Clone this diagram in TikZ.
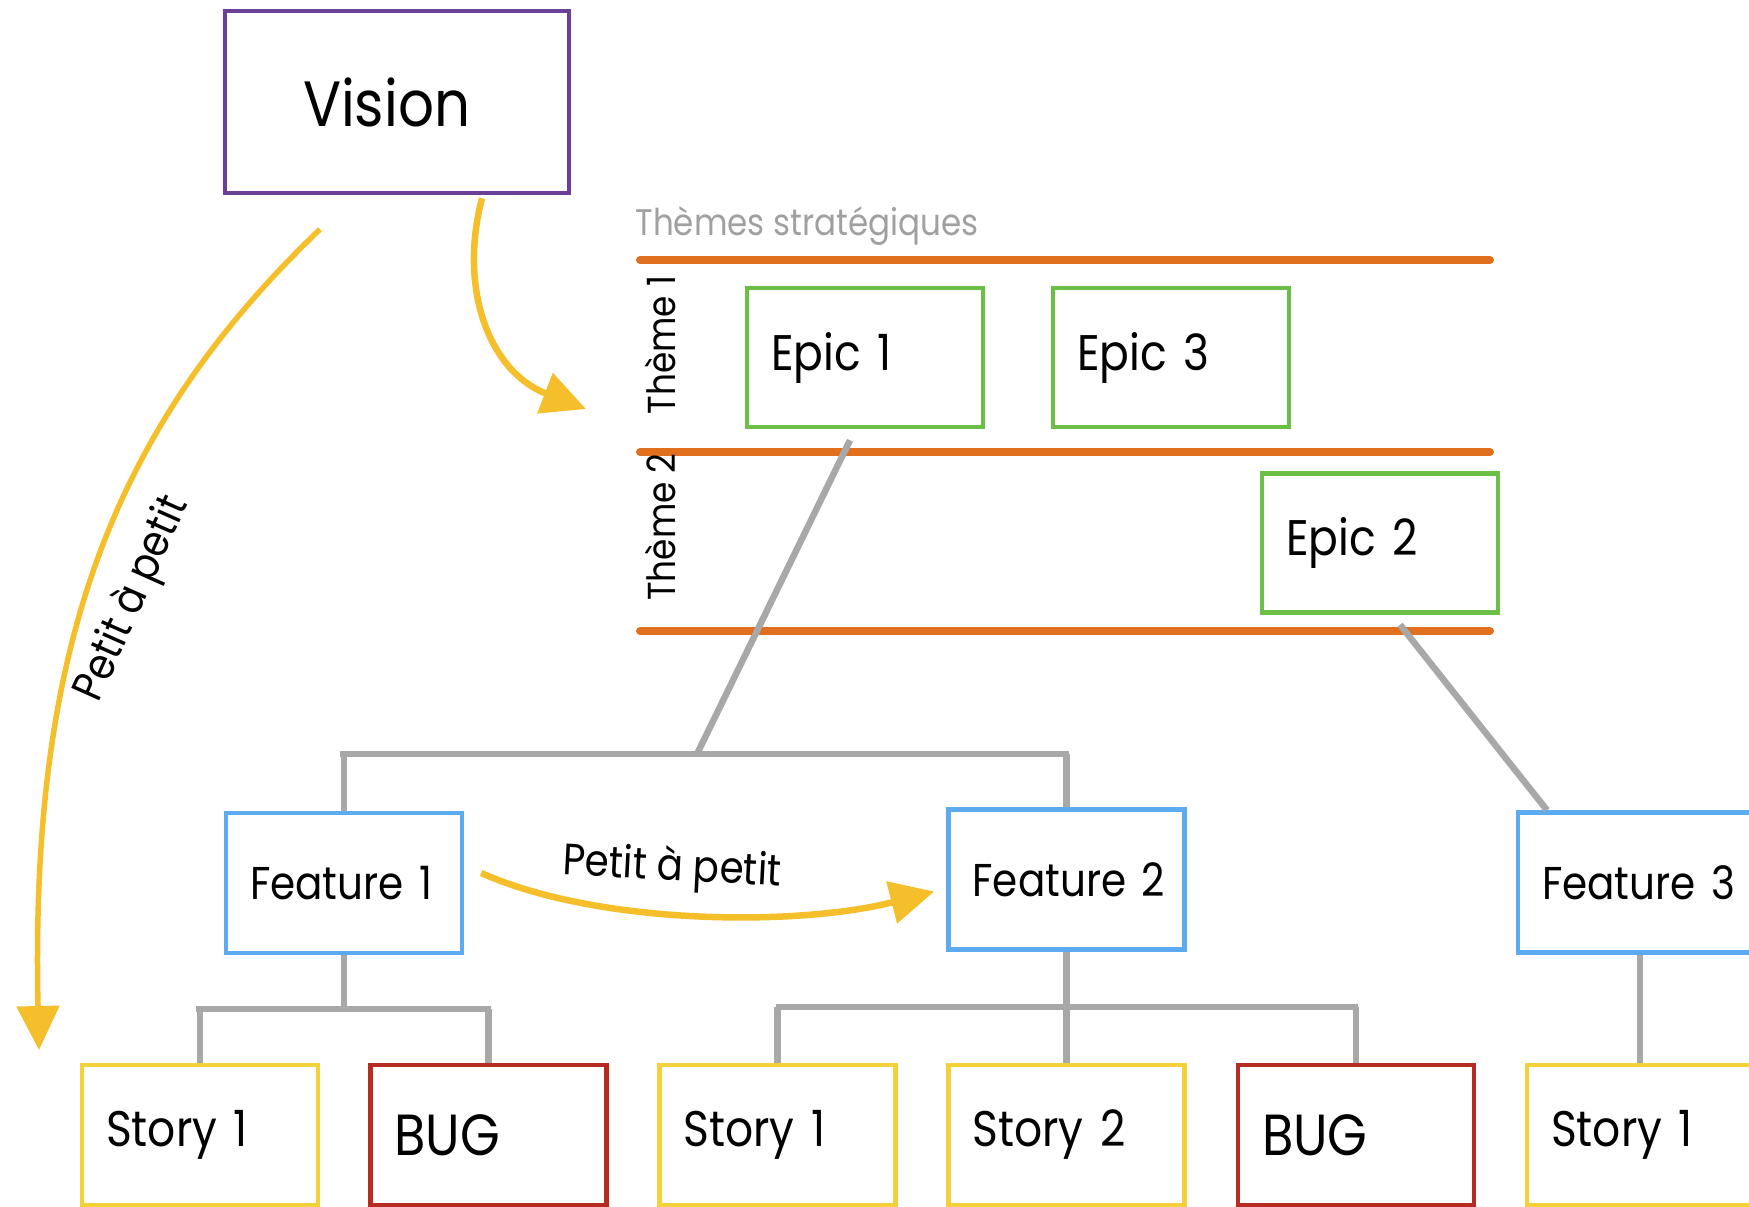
\documentclass[tikz,border=0pt]{standalone}
\usepackage{fontspec}
\setmainfont{Poppins}[FakeStretch=0.88]
\usetikzlibrary{arrows.meta,calc}

\definecolor{visionpurple}{HTML}{6A3F98}
\definecolor{themeorange}{HTML}{E0701E}
\definecolor{epicgreen}{HTML}{6CBF45}
\definecolor{featureblue}{HTML}{5CAAF0}
\definecolor{storyyellow}{HTML}{F4D13A}
\definecolor{bugred}{HTML}{B82B20}
\definecolor{linkgray}{HTML}{A8A8A8}
\definecolor{flowyellow}{HTML}{F5BF2C}
\definecolor{labelgray}{HTML}{A0A0A0}

\tikzset{
  card/.style={rectangle, draw, fill=white, line width=4.5pt,
    inner xsep=24pt, inner ysep=0pt, text width=188pt, align=left,
    minimum height=140pt},
  visionbox/.style={card, draw=visionpurple, inner xsep=78pt,
    minimum height=182pt, font=\fontsize{64}{70}\selectfont},
  epicbox/.style={card, draw=epicgreen, minimum height=139pt,
    font=\fontsize{50}{60}\selectfont},
  featurebox/.style={card, draw=featureblue, font=\fontsize{46}{55}\selectfont},
  storybox/.style={card, draw=storyyellow, font=\fontsize{50}{60}\selectfont},
  bugbox/.style={card, draw=bugred, font=\fontsize{58}{64}\selectfont},
  themeline/.style={draw=themeorange, line width=8pt, line cap=round},
  themelabel/.style={rotate=90, font=\fontsize{39}{44}\selectfont},
  link/.style={draw=linkgray, line width=6.5pt},
  flow/.style={draw=flowyellow, line width=6.5pt,
    -{Triangle[length=44pt,width=42pt]}},
  flowlabel/.style={font=\fontsize{44}{50}\selectfont}
}

\begin{document}
\begin{tikzpicture}[x=1pt, y=-1pt]
\useasboundingbox (0,0) rectangle (1749,1207);
\clip (0,0) rectangle (1749,1207);

% strategic theme lanes
\node[anchor=west, text=labelgray, font=\fontsize{37}{42}\selectfont]
  (themes) at (632,226) {Thèmes stratégiques};
\coordinate (laneA0) at (640,260);  \coordinate (laneA1) at (1490,260);
\coordinate (laneB0) at (640,452);  \coordinate (laneB1) at (1490,452);
\coordinate (laneC0) at (640,631);  \coordinate (laneC1) at (1490,631);
\path[themeline] (laneA0) -- (laneA1);
\path[themeline] (laneB0) -- (laneB1);
\path[themeline] (laneC0) -- (laneC1);
\node[themelabel] (theme1) at (660,345) {Thème 1};
\node[themelabel] (theme2) at (660,527) {Thème 2};

% cards
\node[visionbox] (vis) at (397,102) {\mbox{Vision}};

\node[epicbox] (e1) at (865,357.5) {\mbox{Epic 1}};
\node[epicbox] (e3) at (1171,357.5) {\mbox{Epic 3}};
\node[epicbox] (e2) at (1380,543) {\mbox{Epic 2}};

\node[featurebox] (f1) at (344,883) {\mbox{Feature 1}};
\node[featurebox] (f2) at (1066.5,879.5) {\mbox{Feature 2}};
\node[featurebox] (f3) at (1636,882.5) {\mbox{Feature 3}};

\node[storybox] (s1a) at (200,1135) {\mbox{Story 1}};
\node[bugbox]   (b1)  at (488.5,1135) {\mbox{BUG}};
\node[storybox] (s1b) at (777.5,1135) {\mbox{Story 1}};
\node[storybox] (s2)  at (1066.5,1135) {\mbox{Story 2}};
\node[bugbox]   (b2)  at (1356,1135) {\mbox{BUG}};
\node[storybox] (s3)  at (1645,1135) {\mbox{Story 1}};

% tree links
\coordinate (barA) at (697,754);
\coordinate (barB) at (344,1009);
\coordinate (barC) at (1066.5,1007);
\path[link] ([xshift=-15pt,yshift=-11pt]e1.south) -- (barA);
\path[link] ([xshift=-4pt]f1.north |- barA) -- ([xshift=2pt]f2.north |- barA);
\path[link] (f1.north |- barA) -- (f1.north);
\path[link] (f2.north |- barA) -- (f2.north);
\path[link] ([xshift=20pt,yshift=-10pt]e2.south) -- ([xshift=-89pt]f3.north);

\path[link] (f1.south) -- (barB);
\path[link] ([xshift=-4pt]s1a.north |- barB) -- ([xshift=2pt]b1.north |- barB);
\path[link] (s1a.north |- barB) -- (s1a.north);
\path[link] (b1.north |- barB) -- (b1.north);

\path[link] (f2.south) -- (s2.north);
\path[link] ([xshift=-2pt]s1b.north |- barC) -- ([xshift=2pt]b2.north |- barC);
\path[link] (s1b.north |- barC) -- (s1b.north);
\path[link] (b2.north |- barC) -- (b2.north);

\path[link] ([xshift=4pt]f3.south) -- ([xshift=4pt]f3.south |- s3.north);

% "petit à petit" flows
\coordinate (lanesIn) at (586,409);
\coordinate (storyLevel) at (39,1050);
\path[flow] ([xshift=85pt,yshift=-3pt]vis.south)
  .. controls (458,290) and (490,372) .. (lanesIn);
\path[flow, line width=5.5pt] ([xshift=-77pt,yshift=-34pt]vis.south)
  .. controls (110,430) and (30,650) .. (storyLevel);
\node[flowlabel, rotate=66] (small1) at (133,599) {Petit à petit};

\path[flow] ([xshift=17pt,yshift=10pt]f1.east)
  .. controls (600,926) and (800,926) .. ([xshift=-12pt,yshift=-12pt]f2.west);
\node[flowlabel, rotate=-3] (small2) at (672,869) {Petit à petit};
\end{tikzpicture}
\end{document}
